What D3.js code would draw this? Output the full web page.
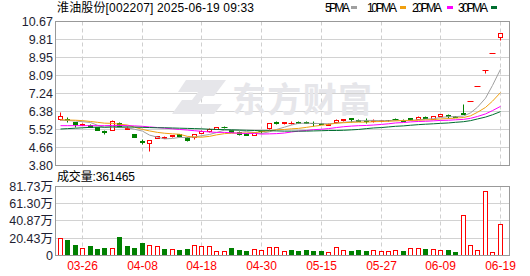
<!DOCTYPE html>
<html><head><meta charset="utf-8">
<script src="https://cdn.jsdelivr.net/npm/d3@7"></script>
<style>
body{margin:0;background:#fff}
svg{display:block}
text{font-family:"Liberation Sans",Arial,"Noto Sans CJK SC",sans-serif}
</style>
</head><body>
<svg id="c" width="530" height="276"></svg>
<script>
const title = "淮油股份[002207] 2025-06-19 09:33";
const volTitle = "成交量:361465";
const dates = ["03-21","03-24","03-25","03-26","03-27","03-28","03-31","04-01","04-02","04-03",
"04-07","04-08","04-09","04-10","04-11","04-14","04-15","04-16","04-17","04-18",
"04-21","04-22","04-23","04-24","04-25","04-28","04-29","04-30","05-06","05-07",
"05-08","05-09","05-12","05-13","05-14","05-15","05-16","05-19","05-20","05-21",
"05-22","05-23","05-26","05-27","05-28","05-29","05-30","06-03","06-04","06-05",
"06-06","06-09","06-10","06-11","06-12","06-13","06-16","06-17","06-18","06-19"];
const open = [5.98,6.00,5.84,5.73,5.73,5.62,5.41,5.49,5.80,5.53,
5.29,4.93,4.84,5.10,5.10,5.19,5.27,5.12,5.15,5.34,
5.41,5.53,5.63,5.45,5.38,5.32,5.24,5.42,5.56,5.85,
5.79,5.78,5.85,5.84,5.82,5.80,5.73,5.84,5.93,6.05,
5.95,5.95,5.91,5.92,5.94,6.01,5.95,6.05,6.00,6.08,
6.00,6.16,6.18,6.14,6.29,6.86,7.55,8.31,9.14,9.92];
const high = [6.32,6.08,5.86,5.79,5.74,5.63,5.47,5.94,5.85,5.64,
5.30,5.03,5.01,5.19,5.16,5.24,5.28,5.13,5.29,5.48,
5.55,5.61,5.68,5.47,5.40,5.33,5.37,5.48,5.80,5.92,
5.85,5.88,5.92,5.88,5.88,5.82,5.80,5.98,6.01,6.06,
6.00,6.02,5.99,5.97,5.96,6.05,5.98,6.06,6.13,6.13,
6.14,6.23,6.22,6.15,6.72,6.86,7.55,8.31,9.14,10.08];
const low = [5.96,5.86,5.59,5.70,5.62,5.47,5.28,5.47,5.63,5.50,
5.12,4.80,4.46,5.08,5.07,5.12,5.15,4.93,5.06,5.32,
5.38,5.52,5.55,5.36,5.25,5.22,5.23,5.34,5.50,5.75,
5.76,5.76,5.80,5.79,5.68,5.74,5.72,5.82,5.90,5.87,
5.88,5.78,5.86,5.91,5.91,5.94,5.90,5.96,5.98,6.02,
5.99,6.12,6.04,6.10,6.21,6.86,7.55,8.20,9.14,9.75];
const close = [6.14,5.93,5.77,5.77,5.63,5.48,5.38,5.92,5.66,5.58,
5.13,4.90,5.00,5.16,5.14,5.23,5.16,4.98,5.28,5.44,
5.53,5.59,5.60,5.37,5.28,5.25,5.36,5.40,5.78,5.82,
5.83,5.82,5.81,5.80,5.79,5.76,5.77,5.96,6.00,5.98,
5.92,5.91,5.93,5.94,5.94,5.98,5.92,5.97,6.11,6.05,
6.12,6.22,6.14,6.11,6.23,6.86,7.55,8.31,9.14,10.08];
// volume in 万 (10k lots)
const volume = [19.8,17.8,11.8,8.3,10.7,7.1,8.3,8.3,21.3,10.7,
8.3,14.6,11.5,10.7,7.1,7.1,5.9,7.1,11.5,10.3,
10.3,4.7,4.7,8.3,5.9,4.7,7.1,5.9,9.5,9.5,
4.7,5.9,4.7,5.9,4.7,4.7,3.6,9.1,5.9,4.7,
5.9,4.7,5.9,4.7,4.7,5.9,4.7,7.9,7.9,7.1,
7.1,5.9,5.9,3.6,47.4,11.5,5.5,75.8,3.6,36.15];
const ma5 = [5.96,5.95,5.92,5.89,5.85,5.72,5.61,5.64,5.61,5.60,
5.53,5.44,5.25,5.15,5.07,5.09,5.14,5.13,5.16,5.22,
5.28,5.37,5.49,5.50,5.48,5.42,5.37,5.33,5.41,5.52,
5.63,5.73,5.81,5.82,5.81,5.80,5.79,5.82,5.86,5.89,
5.93,5.95,5.95,5.94,5.94,5.94,5.94,5.95,5.98,6.01,
6.03,6.09,6.13,6.13,6.16,6.31,6.58,7.01,7.62,8.39];
const ma10 = [5.98,5.97,5.96,5.94,5.90,5.86,5.82,5.81,5.77,5.73,
5.63,5.52,5.45,5.38,5.34,5.31,5.29,5.19,5.16,5.15,
5.19,5.26,5.32,5.34,5.35,5.35,5.37,5.41,5.46,5.50,
5.52,5.55,5.57,5.62,5.67,5.72,5.76,5.82,5.84,5.86,
5.87,5.87,5.89,5.90,5.91,5.93,5.95,5.95,5.96,5.97,
5.99,6.02,6.04,6.06,6.09,6.17,6.34,6.57,6.87,7.28];
const ma20 = [5.70,5.70,5.70,5.70,5.70,5.70,5.70,5.71,5.71,5.70,
5.69,5.67,5.64,5.61,5.58,5.55,5.52,5.49,5.46,5.43,
5.40,5.38,5.38,5.36,5.34,5.33,5.33,5.30,5.31,5.32,
5.35,5.40,5.44,5.47,5.51,5.53,5.56,5.61,5.65,5.68,
5.70,5.71,5.73,5.76,5.79,5.83,5.85,5.88,5.90,5.91,
5.93,5.95,5.96,5.98,6.00,6.05,6.14,6.26,6.42,6.62];
const ma30 = [5.54,5.56,5.58,5.60,5.62,5.63,5.63,5.64,5.64,5.64,
5.63,5.62,5.61,5.60,5.60,5.59,5.58,5.57,5.56,5.55,
5.53,5.52,5.51,5.50,5.49,5.48,5.47,5.46,5.46,5.45,
5.44,5.44,5.44,5.44,5.45,5.46,5.47,5.47,5.48,5.50,
5.52,5.56,5.59,5.61,5.64,5.67,5.69,5.72,5.75,5.77,
5.79,5.81,5.83,5.86,5.89,5.94,6.02,6.11,6.22,6.37];
const priceTicks = [3.80,4.66,5.52,6.38,7.24,8.09,8.95,9.81,10.67];
const volTicks = [0,20.43,40.87,61.30,81.73];
const dateTicks = ["03-26","04-08","04-18","04-30","05-15","05-27","06-09","06-19"];
const maNames = ["5PMA","10PMA","20PMA","30PMA"];

const RED = "#ff0000", GREEN = "#008000";
const maColors = ["#a0a0a0","#f0a010","#ff00ff","#006e30"];

const svg = d3.select("#c");
const L = 55.5, R = 509.5, PT = 21.5, PB = 165.5, VT = 186.5, VB = 255.5;

const x = d3.scaleBand().domain(dates).range([56, 56 + 7.46 * dates.length]);
const cx = d => Math.round(x(d) + x.bandwidth() / 2) + 0.5;
const y = d3.scaleLinear().domain([3.80, 10.67]).range([PB, PT]);
const yv = d3.scaleLinear().domain([0, 81.73]).range([VB, VT]);
const ry = v => Math.round(v - 0.5) + 0.5;

// grid: horizontal
const g = svg.append("g");
g.selectAll(".hp").data(priceTicks.slice(1, -1)).join("line")
  .attr("x1", L).attr("x2", R).attr("y1", d => ry(y(d))).attr("y2", d => ry(y(d)))
  .attr("stroke", "#d2d2d2");
g.selectAll(".hv").data(volTicks.slice(1, -1)).join("line")
  .attr("x1", L).attr("x2", R).attr("y1", d => ry(yv(d))).attr("y2", d => ry(yv(d)))
  .attr("stroke", "#d2d2d2");
// grid: vertical dashed
[[PT, PB], [VT, VB]].forEach(([a, b]) => {
  g.selectAll(null).data(dateTicks).join("line")
    .attr("x1", d => cx(d)).attr("x2", d => cx(d)).attr("y1", a).attr("y2", b)
    .attr("stroke", "#cfcfcf").attr("stroke-dasharray", "4,3");
});

// watermark
const wm = svg.append("g").attr("fill", "#e6e6ea");
wm.append("path").attr("d", "M186,80 L226,80 L214,96 L204,96 L198,104 L222,104 L214,114 L172,114 L182,100 L192,100 L198,92 L178,92 Z");
wm.append("text").attr("x", 232).attr("y", 112).attr("font-size", 34).attr("font-weight", "bold")
  .attr("font-family", "Noto Sans CJK SC").attr("textLength", 140).text("东方财富");

// borders
svg.append("rect").attr("x", L).attr("y", PT).attr("width", R - L).attr("height", PB - PT)
  .attr("fill", "none").attr("stroke", "#999");
svg.append("rect").attr("x", L).attr("y", VT).attr("width", R - L).attr("height", VB - VT)
  .attr("fill", "none").attr("stroke", "#999");

// candles
const idx = d3.range(dates.length);
const dir = i => {
  if (close[i] > open[i]) return 1;
  if (close[i] < open[i]) return -1;
  if (i === 0) return 0;
  return close[i] > close[i - 1] ? 1 : close[i] < close[i - 1] ? -1 : 0;
};
const cColor = i => dir(i) > 0 ? RED : dir(i) < 0 ? GREEN : "#000";
const cg = svg.append("g");
idx.forEach(i => {
  const X = cx(dates[i]);
  const col = cColor(i);
  const yh = ry(y(high[i])), yl = ry(y(low[i]));
  const yt = ry(y(Math.max(open[i], close[i]))), yb = ry(y(Math.min(open[i], close[i])));
  if (yl > yh) cg.append("line").attr("x1", X).attr("x2", X).attr("y1", yh).attr("y2", yl).attr("stroke", col);
  if (yb - yt < 1) {
    cg.append("line").attr("x1", X - 3).attr("x2", X + 3).attr("y1", yt).attr("y2", yt).attr("stroke", col);
  } else if (dir(i) > 0) {
    cg.append("rect").attr("x", X - 2).attr("y", yt).attr("width", 4).attr("height", yb - yt)
      .attr("fill", "#fff").attr("stroke", col);
  } else {
    cg.append("rect").attr("x", X - 2.5).attr("y", yt - 0.5).attr("width", 5).attr("height", yb - yt + 1)
      .attr("fill", col);
  }
});

// MA lines
[ma5, ma10, ma20, ma30].forEach((arr, k) => {
  svg.append("path").datum(idx)
    .attr("d", d3.line().x(i => cx(dates[i])).y(i => y(arr[i])))
    .attr("fill", "none").attr("stroke", maColors[k]).attr("stroke-width", 1);
});

// volume bars
const vg = svg.append("g");
idx.forEach(i => {
  const X = cx(dates[i]);
  const up = i === 0 ? close[i] >= open[i] : close[i] >= close[i - 1];
  const top = ry(yv(volume[i]));
  if (up) {
    vg.append("rect").attr("x", X - 2).attr("y", top).attr("width", 4).attr("height", VB - top)
      .attr("fill", "#fff").attr("stroke", RED);
  } else {
    vg.append("rect").attr("x", X - 2.5).attr("y", top - 0.5).attr("width", 5).attr("height", VB - top + 0.5)
      .attr("fill", GREEN);
  }
});
svg.append("line").attr("x1", L).attr("x2", R).attr("y1", VB).attr("y2", VB).attr("stroke", "#999");

// axes labels
svg.append("g").selectAll("text").data(priceTicks).join("text")
  .attr("x", 53).attr("y", d => y(d) + 4.5).attr("text-anchor", "end")
  .attr("font-size", 12.5).attr("fill", "#1e1e32").text(d => d.toFixed(2));
svg.append("g").selectAll("text").data(volTicks).join("text")
  .attr("x", 53).attr("y", d => yv(d) + 4.5).attr("text-anchor", "end")
  .attr("font-size", 12.5).attr("fill", "#1e1e32").text(d => d === 0 ? "0" : d.toFixed(2) + "万");
svg.append("g").selectAll("text").data(dateTicks).join("text")
  .attr("x", d => cx(d)).attr("y", 270).attr("text-anchor", "middle")
  .attr("font-size", 12).attr("fill", RED).text(d => d);

// titles
svg.append("text").attr("x", 57).attr("y", 12).attr("font-size", 12)
  .attr("font-family", "Noto Sans CJK SC").attr("textLength", 197).attr("fill", "#000").text(title);
svg.append("text").attr("x", 57).attr("y", 180.5).attr("font-size", 12)
  .attr("font-family", "Noto Sans CJK SC").attr("textLength", 78).attr("fill", "#000").text(volTitle);

// legend
const legX = [325, 367, 412, 458], swX = [351, 400, 447, 491];
maNames.forEach((n, k) => {
  svg.append("text").attr("x", legX[k]).attr("y", 12).attr("font-size", 12)
    .attr("font-family", "Liberation Serif").attr("textLength", k === 0 ? 25 : 30).text(n);
  svg.append("rect").attr("x", swX[k]).attr("y", 6).attr("width", 6).attr("height", 3).attr("fill", maColors[k]);
});
</script>
</body></html>
